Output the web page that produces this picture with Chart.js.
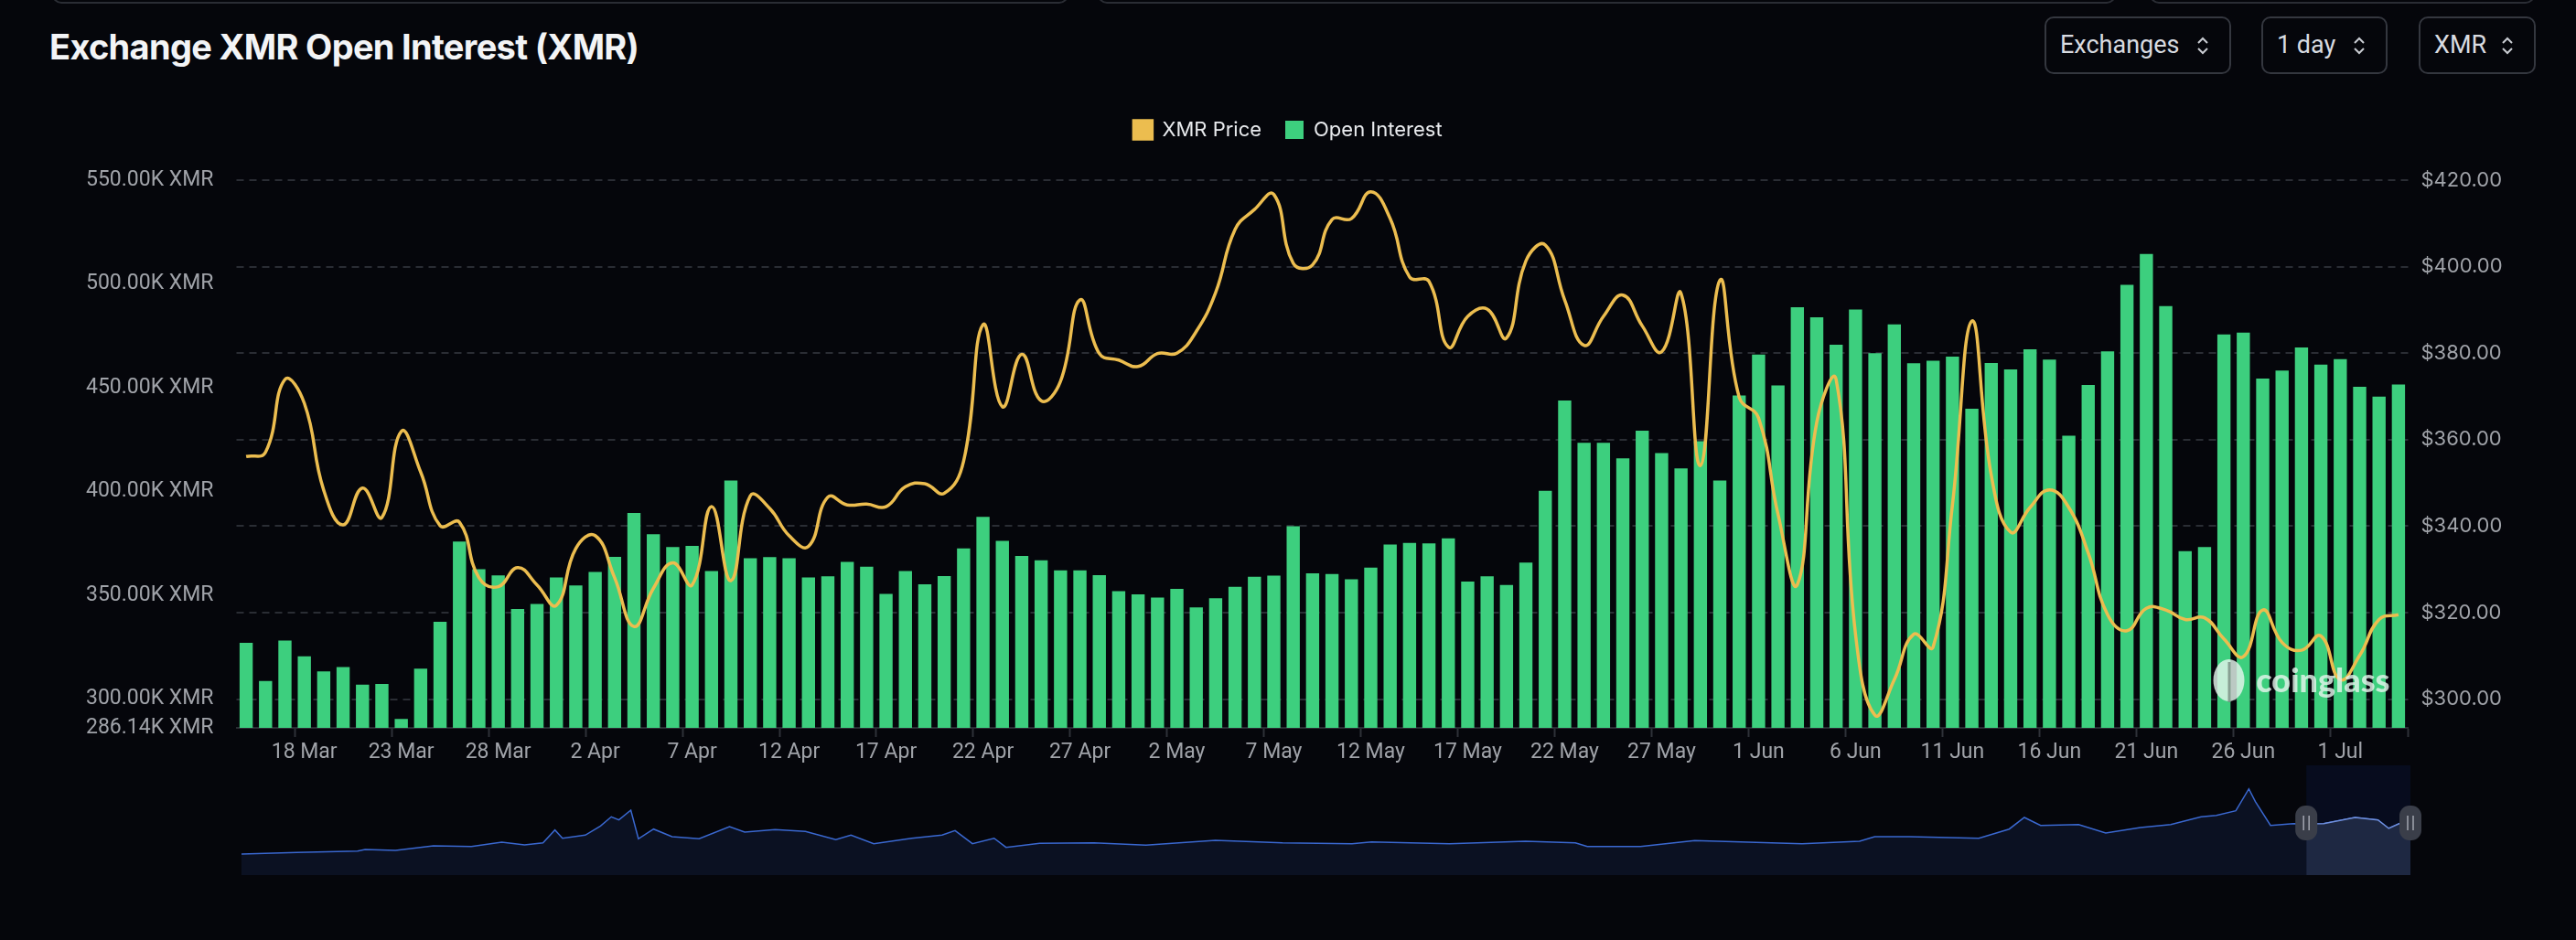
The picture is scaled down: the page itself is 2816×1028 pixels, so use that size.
<!DOCTYPE html>
<html>
<head>
<meta charset="utf-8">
<title>Exchange XMR Open Interest (XMR)</title>
<script src="https://cdn.jsdelivr.net/npm/chart.js@4.4.1/dist/chart.umd.min.js"></script>
<style>
  html, body { margin: 0; padding: 0; background: #05060b; }
  body { width: 2816px; height: 1028px; position: relative; overflow: hidden; font-family: Inter, sans-serif; }
  canvas { position: absolute; }
  .topbox { position: absolute; top: -40px; height: 40px; border: 2px solid #2a2d34; border-radius: 10px; }
  h1 { position: absolute; left: 54px; top: 32px; margin: 0; font: 700 38px/38px Inter, sans-serif; color: #f3f4f6; letter-spacing: -0.7px; white-space: nowrap; }
  .sel { position: absolute; top: 18px; height: 63px; box-sizing: border-box; border: 2px solid #34373f; border-radius: 10px;
         color: #d8dbe0; font: 27px Roboto, sans-serif; line-height: 59px; padding-left: 15px; }
  .sel svg { position: absolute; right: 22px; top: 18px; }
</style>
</head>
<body>
<div class="topbox" style="left:57px;width:1107px"></div>
<div class="topbox" style="left:1200px;width:1109px"></div>
<div class="topbox" style="left:2350px;width:417px"></div>

<h1>Exchange XMR Open Interest (XMR)</h1>

<div class="sel" style="left:2235px;width:204px">Exchanges<svg width="14" height="24"><path d="M2 9 L7 4 L12 9 M2 15 L7 20 L12 15" fill="none" stroke="#c9ccd2" stroke-width="2"/></svg></div>
<div class="sel" style="left:2472px;width:138px">1 day<svg width="14" height="24"><path d="M2 9 L7 4 L12 9 M2 15 L7 20 L12 15" fill="none" stroke="#c9ccd2" stroke-width="2"/></svg></div>
<div class="sel" style="left:2644px;width:128px">XMR<svg width="14" height="24"><path d="M2 9 L7 4 L12 9 M2 15 L7 20 L12 15" fill="none" stroke="#c9ccd2" stroke-width="2"/></svg></div>

<canvas id="oiChart" width="2816" height="1028" style="left:0;top:0"></canvas>
<canvas id="navChart" width="2420" height="120" style="left:240px;top:837px"></canvas>

<script>
// one category per day, 15 Mar -> 4 Jul
const dayLabels = [
  '15 Mar','16 Mar','17 Mar','18 Mar','19 Mar','20 Mar','21 Mar','22 Mar','23 Mar','24 Mar','25 Mar','26 Mar','27 Mar','28 Mar','29 Mar','30 Mar','31 Mar',
  '1 Apr','2 Apr','3 Apr','4 Apr','5 Apr','6 Apr','7 Apr','8 Apr','9 Apr','10 Apr','11 Apr','12 Apr','13 Apr','14 Apr','15 Apr',
  '16 Apr','17 Apr','18 Apr','19 Apr','20 Apr','21 Apr','22 Apr','23 Apr','24 Apr','25 Apr','26 Apr','27 Apr','28 Apr','29 Apr','30 Apr',
  '1 May','2 May','3 May','4 May','5 May','6 May','7 May','8 May','9 May','10 May','11 May','12 May','13 May','14 May','15 May','16 May',
  '17 May','18 May','19 May','20 May','21 May','22 May','23 May','24 May','25 May','26 May','27 May','28 May','29 May','30 May','31 May',
  '1 Jun','2 Jun','3 Jun','4 Jun','5 Jun','6 Jun','7 Jun','8 Jun','9 Jun','10 Jun','11 Jun','12 Jun','13 Jun','14 Jun','15 Jun',
  '16 Jun','17 Jun','18 Jun','19 Jun','20 Jun','21 Jun','22 Jun','23 Jun','24 Jun','25 Jun','26 Jun','27 Jun','28 Jun','29 Jun','30 Jun',
  '1 Jul','2 Jul','3 Jul','4 Jul'
];

// open interest, thousands of XMR
const openInterestK = [
  327.1, 308.7, 328.2, 320.6, 313.3, 315.4, 307.0, 307.3, 290.4, 314.7,
  337.2, 375.9, 362.6, 359.6, 343.4, 345.8, 358.6, 354.7, 361.2, 368.5,
  389.7, 379.4, 373.3, 373.8, 361.7, 405.3, 367.8, 368.4, 367.8, 358.6,
  359.1, 366.1, 363.8, 350.7, 361.7, 355.3, 359.3, 372.6, 387.8, 376.2,
  368.9, 366.9, 362.0, 362.0, 359.7, 352.0, 350.5, 348.9, 353.1, 344.2,
  348.6, 354.1, 358.9, 359.5, 383.3, 360.6, 360.2, 357.7, 363.3, 374.5,
  375.2, 375.0, 377.4, 356.6, 359.1, 355.0, 365.8, 400.3, 443.8, 423.5,
  423.5, 416.0, 429.3, 418.5, 411.1, 424.2, 405.3, 446.3, 466.0, 451.1,
  488.8, 483.9, 470.7, 487.7, 466.6, 480.5, 461.8, 463.0, 465.0, 439.9,
  461.9, 458.8, 468.5, 463.6, 426.9, 451.3, 467.5, 499.6, 514.4, 489.3,
  371.3, 373.3, 475.7, 476.5, 454.4, 458.3, 469.4, 461.1, 463.8, 450.4,
  445.7, 451.6
];

// XMR price, USD
const xmrPrice = [
  356.1, 357.1, 373.9, 368.4, 348.3, 340.3, 348.8, 342.0, 361.9, 352.5,
  340.1, 340.9, 328.1, 326.0, 330.4, 326.4, 321.7, 334.8, 337.8, 328.1,
  316.8, 325.6, 331.5, 326.4, 344.5, 327.4, 347.0, 344.1, 337.8, 335.3,
  346.7, 344.9, 345.1, 344.5, 349.1, 349.8, 347.6, 355.0, 386.6, 367.6,
  379.7, 369.0, 373.5, 392.3, 379.9, 378.4, 376.9, 379.9, 380.0, 385.0,
  394.0, 408.6, 413.2, 416.7, 400.8, 400.4, 410.9, 411.1, 417.3, 411.1,
  397.6, 396.6, 381.4, 388.5, 390.2, 383.5, 401.3, 405.0, 392.3, 381.8,
  388.5, 393.4, 386.3, 380.3, 393.8, 354.0, 396.8, 369.8, 365.0, 342.8,
  326.5, 364.0, 373.9, 315.0, 296.3, 304.5, 315.0, 312.0, 345.0, 387.4,
  351.8, 338.6, 344.3, 348.4, 344.3, 333.8, 319.5, 315.8, 321.0, 320.6,
  318.4, 318.8, 313.9, 309.8, 320.6, 313.1, 311.3, 314.6, 304.5, 310.1,
  318.4, 319.5
];

const oiTicks = [286.14, 300, 350, 400, 450, 500, 550];
const priceTicks = [300, 320, 340, 360, 380, 400, 420];

// overview strip under the chart (position along the full history in %, level)
const navT = [0, 2.55, 5.35, 5.7, 7.1, 8.85, 10.6, 12.0, 13.05, 13.9, 14.45, 14.8, 15.85, 16.55, 17.05,
  17.4, 17.95, 18.3, 19.0, 19.85, 21.1, 22.5, 23.2, 24.6, 26.0, 27.4, 28.1, 29.15, 30.9, 32.3,
  32.9, 33.7, 34.7, 35.25, 36.8, 39.3, 41.7, 44.9, 48.0, 51.2, 52.1, 55.7, 59.2, 61.5, 62.05,
  64.5, 67.0, 71.95, 74.6, 75.3, 76.9, 80.1, 81.5, 82.2, 82.95, 84.7, 85.95, 87.55, 88.95, 90.35,
  91.05, 91.95, 92.55, 92.85, 93.55, 94.6, 95.2, 96.0, 97.45, 98.5, 99.0, 99.55, 100];
const navLevel = [23, 24.7, 26.3, 28, 27, 32, 31.3, 36, 33, 35.3, 49.3, 40.3, 43.7, 53.7, 63.7,
  60.3, 71, 39.7, 50.3, 42, 39.7, 53, 47, 49.7, 47.7, 38.7, 43.7, 34.3, 40.3, 43.7,
  48.7, 34.3, 40.3, 30.3, 34.7, 35.3, 32.7, 38, 35.3, 34.3, 36.3, 34.3, 37, 35.3, 31.3,
  31.3, 37.7, 34.3, 37, 42, 42, 40.3, 50.3, 63, 54.3, 55.3, 46, 52, 55.3, 63.7,
  65.3, 70.3, 94.3, 80.3, 54.3, 56.3, 56.0, 56.3, 63, 60.3, 51, 57, 57];
const navWindow = [95.2, 100];

const axisGrey = '#a0a3a9';
const priceColor = '#ecbd4f';
const oiColor = '#3dcf7e';

// push the plot area down below the legend
const legendSpacing = {
  id: 'legendSpacing',
  beforeInit(chart) {
    const origFit = chart.legend.fit;
    chart.legend.fit = function () {
      origFit.bind(chart.legend)();
      this.height += 34;
    };
  }
};

// coinglass watermark, bottom right of the plot
const watermark = {
  id: 'watermark',
  afterDatasetsDraw(chart) {
    const { ctx, chartArea } = chart;
    ctx.save();
    ctx.fillStyle = 'rgba(228, 244, 236, 0.82)';
    ctx.font = '900 36px Lato';
    ctx.textAlign = 'right';
    ctx.textBaseline = 'alphabetic';
    ctx.fillText('coinglass', chartArea.right - 20, chartArea.bottom - 39);
    const cx = chartArea.right - 196, cy = chartArea.bottom - 52;
    ctx.beginPath();
    ctx.ellipse(cx, cy, 17, 23, 0, 0, Math.PI * 2);
    ctx.fill();
    ctx.fillStyle = 'rgba(120, 140, 130, 0.8)';
    ctx.fillRect(cx - 1, cy - 20, 3, 44);
    ctx.restore();
  }
};

new Chart(document.getElementById('oiChart'), {
  type: 'bar',
  data: {
    labels: dayLabels,
    datasets: [
      {
        type: 'line',
        label: 'XMR Price',
        data: xmrPrice,
        yAxisID: 'yPrice',
        borderColor: priceColor,
        backgroundColor: priceColor,
        borderWidth: 3.5,
        pointRadius: 0,
        tension: 0.45
      },
      {
        type: 'bar',
        label: 'Open Interest',
        data: openInterestK,
        yAxisID: 'yOI',
        backgroundColor: oiColor,
        categoryPercentage: 1,
        barPercentage: 0.68
      }
    ]
  },
  options: {
    responsive: false,
    animation: false,
    layout: { padding: { top: 105, bottom: 182, left: 0, right: 0 } },
    plugins: {
      tooltip: { enabled: false },
      legend: {
        position: 'top',
        labels: {
          boxWidth: 20,
          boxHeight: 20,
          padding: 26,
          color: '#e8eaed',
          font: { family: 'Inter', size: 22 }
        }
      }
    },
    scales: {
      x: {
        grid: {
          offset: true,
          drawOnChartArea: false,
          drawTicks: true,
          tickLength: 10,
          tickWidth: 2,
          tickColor: ctx => (ctx.index === undefined || (ctx.index - 3) % 5 === 0) ? '#2e3138' : 'rgba(0,0,0,0)'
        },
        border: { color: '#2a2d33', width: 2 },
        ticks: {
          autoSkip: false,
          maxRotation: 0,
          padding: 3,
          color: axisGrey,
          font: { family: 'Roboto', size: 23 },
          callback(val, i) {
            return (i - 3) % 5 === 0 ? this.getLabelForValue(val) : '';
          }
        },
        afterFit(scale) { scale.height = 50; }
      },
      yOI: {
        position: 'left',
        min: 286.14,
        max: 550,
        grid: { display: false },
        border: { display: false },
        ticks: {
          padding: 17,
          color: axisGrey,
          font: { family: 'Roboto', size: 23 },
          callback: v => v.toFixed(2) + 'K XMR'
        },
        afterBuildTicks(scale) { scale.ticks = oiTicks.map(v => ({ value: v })); },
        afterFit(scale) { scale.width = 258.5; }
      },
      yPrice: {
        position: 'right',
        min: 293.35,
        max: 420,
        grid: { color: '#2a2d34', lineWidth: 2, drawTicks: false },
        border: { display: false, dash: [8, 6] },
        ticks: {
          padding: 14,
          color: axisGrey,
          font: { family: 'Inter', size: 22 },
          callback: v => '$' + v.toFixed(2)
        },
        afterBuildTicks(scale) { scale.ticks = priceTicks.map(v => ({ value: v })); },
        afterFit(scale) { scale.width = 183.5; }
      }
    }
  },
  plugins: [legendSpacing, watermark]
});

// selected window + drag handles on the overview strip
const navWindowPlugin = {
  id: 'navWindow',
  beforeDatasetsDraw(chart) {
    const { ctx, chartArea, scales } = chart;
    const x0 = scales.x.getPixelForValue(navWindow[0]);
    const x1 = scales.x.getPixelForValue(navWindow[1]);
    ctx.save();
    ctx.fillStyle = '#070c1e';
    ctx.fillRect(x0, chartArea.top, x1 - x0, chartArea.bottom - chartArea.top);
    ctx.restore();
  },
  afterDatasetsDraw(chart) {
    const { ctx, scales } = chart;
    const cy = 63;
    navWindow.forEach(v => {
      const x = scales.x.getPixelForValue(v);
      ctx.save();
      ctx.fillStyle = '#3a3e49';
      ctx.beginPath();
      ctx.roundRect(x - 12, cy - 19, 24, 38, 11);
      ctx.fill();
      ctx.strokeStyle = '#a3a7b0';
      ctx.lineWidth = 1.5;
      ctx.beginPath();
      ctx.moveTo(x - 3, cy - 8); ctx.lineTo(x - 3, cy + 8);
      ctx.moveTo(x + 3, cy - 8); ctx.lineTo(x + 3, cy + 8);
      ctx.stroke();
      ctx.restore();
    });
  }
};

const navPoints = navT.map((t, i) => ({ x: t, y: navLevel[i] }));

new Chart(document.getElementById('navChart'), {
  type: 'line',
  data: {
    datasets: [
      {
        data: navPoints.filter(p => p.x >= navWindow[0]),
        borderColor: '#6f8fdc',
        borderWidth: 1.5,
        backgroundColor: '#1e2842',
        fill: 'origin',
        pointRadius: 0,
        tension: 0
      },
      {
        data: navPoints,
        borderColor: '#3a68d0',
        borderWidth: 1.5,
        backgroundColor: '#0b1122',
        fill: 'origin',
        pointRadius: 0,
        tension: 0
      }
    ]
  },
  options: {
    responsive: false,
    animation: false,
    layout: { padding: { left: 24, right: 25, top: 0, bottom: 0 } },
    plugins: { legend: { display: false }, tooltip: { enabled: false } },
    scales: {
      x: { type: 'linear', display: false, min: 0, max: 100 },
      y: { display: false, min: 0, max: 120 }
    }
  },
  plugins: [navWindowPlugin]
});
</script>
</body>
</html>
